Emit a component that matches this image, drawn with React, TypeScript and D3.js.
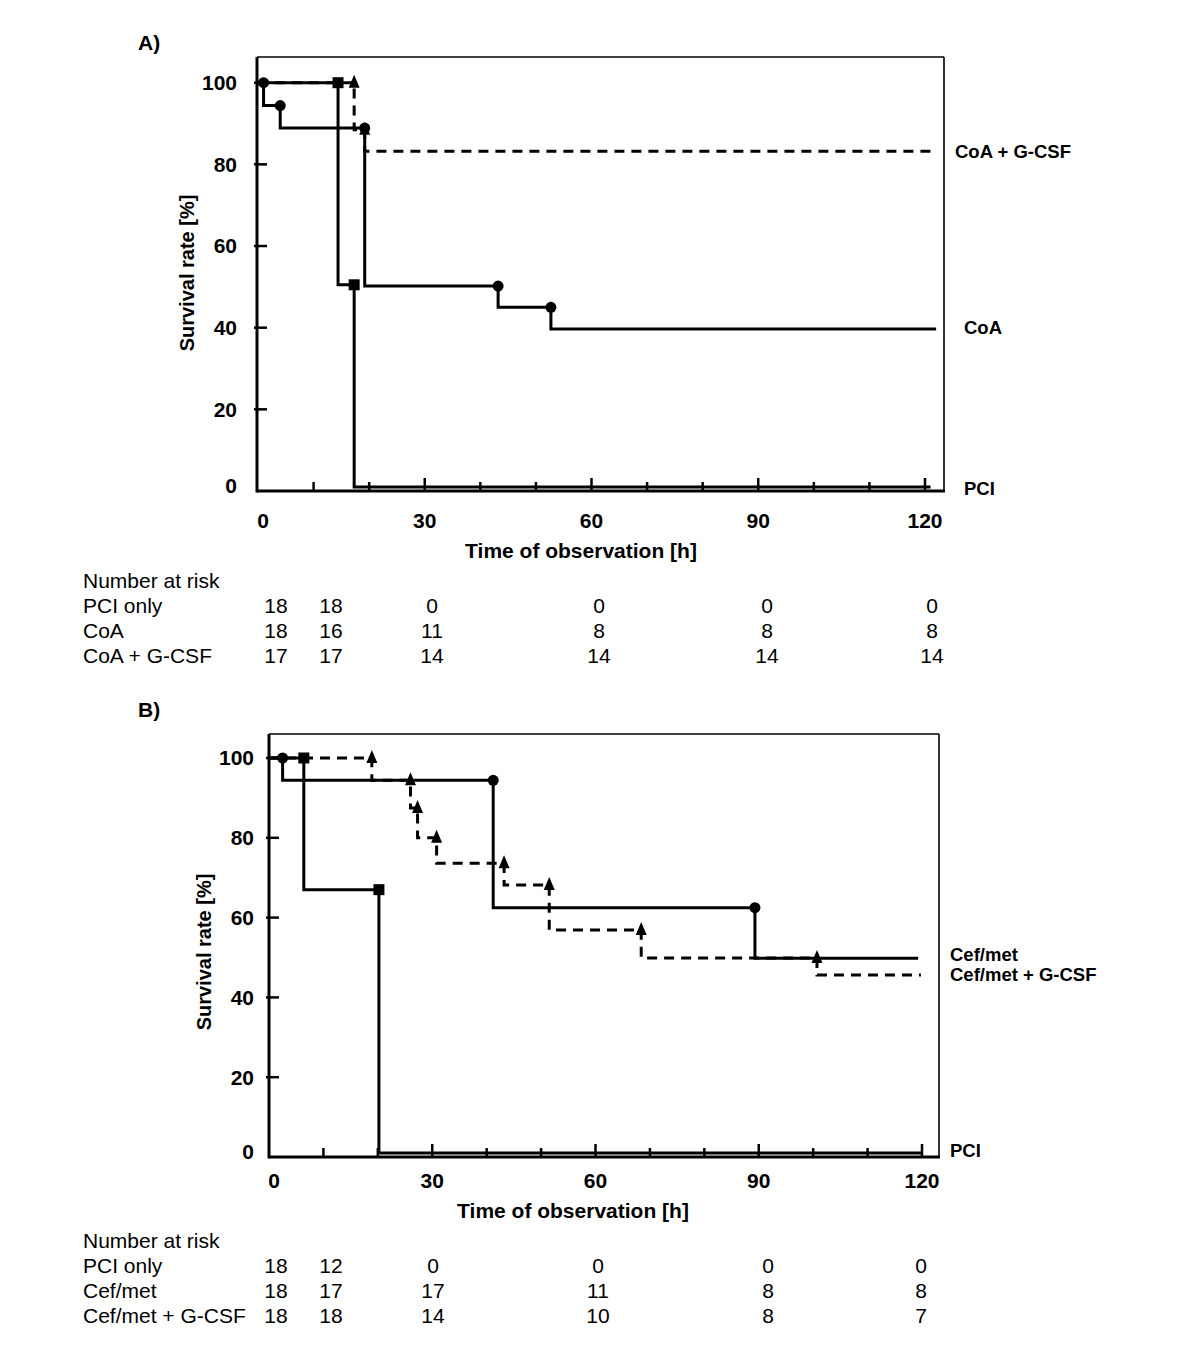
import React from 'react';
import * as d3 from 'd3';

const FONT = '"Liberation Sans", Arial, Helvetica, sans-serif';

// ---------- Panel A data (time [h], survival [%]) ----------
const A_PCI_t = [0, 14.4, 17.3, 121];
const A_PCI_s = [100, 50.5, 1, 1];
const A_CoA_t = [0, 1, 4, 19.2, 43.2, 52.7, 122];
const A_CoA_s = [100, 94.4, 88.9, 50.2, 45, 39.7, 39.7];
const A_GCSF_t = [0, 17.3, 19.2, 121.5];
const A_GCSF_s = [100, 88.5, 83.2, 83.2];

// ---------- Panel B data ----------
const B_PCI_t = [0, 6.4, 20.2, 120];
const B_PCI_s = [100, 67, 1, 1];
const B_Cef_t = [0, 2.5, 41.2, 89.3, 119.3];
const B_Cef_s = [100, 94.4, 62.5, 49.8, 49.8];
const B_CefG_t = [0, 18.9, 26, 27.3, 30.8, 43.2, 51.5, 68.4, 100.7, 119.8];
const B_CefG_s = [100, 94.4, 87.5, 80, 73.6, 68.2, 56.9, 49.9, 45.6, 45.6];

// ---------- axis ticks ----------
const xTickLabels = [0, 30, 60, 90, 120];
const xMinorTicks = [10, 20, 30, 40, 50, 60, 70, 80, 90, 100, 110, 120];
const yTickLabels = [0, 20, 40, 60, 80, 100];

// ---------- number at risk ----------
const riskHeader = 'Number at risk';
const A_riskNames = ['PCI only', 'CoA', 'CoA + G-CSF'];
const A_riskPCI = ['18', '18', '0', '0', '0', '0'];
const A_riskCoA = ['18', '16', '11', '8', '8', '8'];
const A_riskGCSF = ['17', '17', '14', '14', '14', '14'];
const B_riskNames = ['PCI only', 'Cef/met', 'Cef/met + G-CSF'];
const B_riskPCI = ['18', '12', '0', '0', '0', '0'];
const B_riskCef = ['18', '17', '17', '11', '8', '8'];
const B_riskCefG = ['18', '18', '14', '10', '8', '7'];

type Series = { t: number[]; s: number[]; marker: 'circle' | 'square' | 'triangle'; dashed: boolean };

type PanelCfg = {
  letter: string;
  letterPos: [number, number];
  box: { left: number; right: number; top: number; bottom: number };
  xRange: [number, number];
  yRange: [number, number];
  yLabelX: number;
  xLabelY: number;
  yTitle: [number, number];
  xTitle: [number, number];
  series: Series[];
  rightLabels: { text: string; x: number; y: number }[];
  riskY: number;
  riskCols: number[];
  riskNames: string[];
  riskRows: string[][];
};

const panels: PanelCfg[] = [
  {
    letter: 'A)',
    letterPos: [138, 43],
    box: { left: 257, right: 944, top: 57, bottom: 491 },
    xRange: [258, 925],
    yRange: [491, 82.7],
    yLabelX: 237,
    xLabelY: 521,
    yTitle: [187, 273],
    xTitle: [581, 551],
    series: [
      { t: A_PCI_t, s: A_PCI_s, marker: 'square', dashed: false },
      { t: A_CoA_t, s: A_CoA_s, marker: 'circle', dashed: false },
      { t: A_GCSF_t, s: A_GCSF_s, marker: 'triangle', dashed: true },
    ],
    rightLabels: [
      { text: 'CoA + G-CSF', x: 955, y: 152 },
      { text: 'CoA', x: 964, y: 328 },
      { text: 'PCI', x: 964, y: 489 },
    ],
    riskY: 581,
    riskCols: [276, 331, 432, 599, 767, 932],
    riskNames: A_riskNames,
    riskRows: [A_riskPCI, A_riskCoA, A_riskGCSF],
  },
  {
    letter: 'B)',
    letterPos: [138, 710],
    box: { left: 269, right: 939, top: 734, bottom: 1157 },
    xRange: [269, 922],
    yRange: [1157, 758],
    yLabelX: 254,
    xLabelY: 1181,
    yTitle: [204, 952],
    xTitle: [573, 1211],
    series: [
      { t: B_PCI_t, s: B_PCI_s, marker: 'square', dashed: false },
      { t: B_Cef_t, s: B_Cef_s, marker: 'circle', dashed: false },
      { t: B_CefG_t, s: B_CefG_s, marker: 'triangle', dashed: true },
    ],
    rightLabels: [
      { text: 'Cef/met', x: 950, y: 955 },
      { text: 'Cef/met + G-CSF', x: 950, y: 975 },
      { text: 'PCI', x: 950, y: 1151 },
    ],
    riskY: 1241,
    riskCols: [276, 331, 433, 598, 768, 921],
    riskNames: B_riskNames,
    riskRows: [B_riskPCI, B_riskCef, B_riskCefG],
  },
];

function markerPath(kind: Series['marker'], x: number, y: number): string {
  if (kind === 'circle') {
    const r = 5.5;
    return `M${x - r},${y}a${r},${r} 0 1,0 ${2 * r},0a${r},${r} 0 1,0 ${-2 * r},0Z`;
  }
  if (kind === 'square') {
    const h = 5.5;
    return `M${x - h},${y - h}h${2 * h}v${2 * h}h${-2 * h}Z`;
  }
  return `M${x},${y - 8}L${x + 5.5},${y + 5}L${x - 5.5},${y + 5}Z`;
}

function Panel({ cfg }: { cfg: PanelCfg }) {
  const x = d3.scaleLinear().domain([0, 120]).range(cfg.xRange);
  const y = d3.scaleLinear().domain([0, 100]).range(cfg.yRange);
  const line = d3
    .line<[number, number]>()
    .x((d) => x(d[0]))
    .y((d) => y(d[1]))
    .curve(d3.curveStepAfter);
  const { box } = cfg;
  const boldTxt = { fontFamily: FONT, fontWeight: 700 as const };
  return (
    <g>
      <text x={cfg.letterPos[0]} y={cfg.letterPos[1]} dy="0.35em" fontSize={21} {...boldTxt}>
        {cfg.letter}
      </text>
      {/* frame */}
      <line x1={box.left} x2={box.right} y1={box.top} y2={box.top} stroke="#000" strokeWidth={1.6} />
      <line x1={box.right} x2={box.right} y1={box.top} y2={box.bottom} stroke="#000" strokeWidth={1.6} />
      <line x1={box.left} x2={box.left} y1={box.top} y2={box.bottom + 1.5} stroke="#000" strokeWidth={3} />
      <line x1={box.left} x2={box.right + 1} y1={box.bottom} y2={box.bottom} stroke="#000" strokeWidth={3} />
      {/* y ticks */}
      {yTickLabels.map((v) => (
        <g key={'yt' + v}>
          {v > 0 && (
            <line x1={box.left - 3} x2={box.left + 10} y1={y(v)} y2={y(v)} stroke="#000" strokeWidth={2.5} />
          )}
          <text
            x={cfg.yLabelX}
            y={v === 0 ? y(v) - 5 : y(v)}
            dy="0.35em"
            textAnchor="end"
            fontSize={21}
            {...boldTxt}
          >
            {v}
          </text>
        </g>
      ))}
      {/* x ticks */}
      {xMinorTicks.map((v) => (
        <line
          key={'xt' + v}
          x1={x(v)}
          x2={x(v)}
          y1={box.bottom}
          y2={box.bottom - (v % 30 === 0 ? 13 : 9)}
          stroke="#000"
          strokeWidth={2.5}
        />
      ))}
      {xTickLabels.map((v) => (
        <text key={'xl' + v} x={x(v) + (v === 0 ? 5 : 0)} y={cfg.xLabelY} dy="0.35em" textAnchor="middle" fontSize={21} {...boldTxt}>
          {v}
        </text>
      ))}
      {/* titles */}
      <text
        transform={`translate(${cfg.yTitle[0]},${cfg.yTitle[1]}) rotate(-90)`}
        dy="0.35em"
        textAnchor="middle"
        fontSize={20}
        {...boldTxt}
      >
        Survival rate [%]
      </text>
      <text x={cfg.xTitle[0]} y={cfg.xTitle[1]} dy="0.35em" textAnchor="middle" fontSize={21} {...boldTxt}>
        Time of observation [h]
      </text>
      {/* curves */}
      {cfg.series.map((sr, i) => {
        const pts = sr.t.map((t, j) => [t, sr.s[j]] as [number, number]);
        return (
          <path
            key={'c' + i}
            d={line(pts) || ''}
            fill="none"
            stroke="#000"
            strokeWidth={3}
            strokeDasharray={sr.dashed ? '10,7' : undefined}
          />
        );
      })}
      {cfg.series.map((sr, i) =>
        sr.t.slice(1, -1).map((t, j) => (
          <path key={'m' + i + '-' + j} d={markerPath(sr.marker, x(t), y(sr.s[j]))} fill="#000" />
        ))
      )}
      {/* right labels */}
      {cfg.rightLabels.map((l) => (
        <text key={l.text} x={l.x} y={l.y} dy="0.35em" fontSize={18.5} {...boldTxt}>
          {l.text}
        </text>
      ))}
      {/* number at risk */}
      <text x={83} y={cfg.riskY} dy="0.35em" fontSize={21} fontFamily={FONT}>
        {riskHeader}
      </text>
      {cfg.riskNames.map((name, r) => (
        <g key={'r' + r}>
          <text x={83} y={cfg.riskY + 25 * (r + 1)} dy="0.35em" fontSize={21} fontFamily={FONT}>
            {name}
          </text>
          {cfg.riskRows[r].map((v, c) => (
            <text
              key={'rv' + c}
              x={cfg.riskCols[c]}
              y={cfg.riskY + 25 * (r + 1)}
              dy="0.35em"
              textAnchor="middle"
              fontSize={21}
              fontFamily={FONT}
            >
              {v}
            </text>
          ))}
        </g>
      ))}
    </g>
  );
}

export default function App() {
  return (
    <svg
      width={1200}
      height={1361}
      style={{ position: 'absolute', left: 0, top: 0, display: 'block', background: '#fff' }}
    >
      <rect x={0} y={0} width={1200} height={1361} fill="#fff" />
      {panels.map((p) => (
        <Panel key={p.letter} cfg={p} />
      ))}
    </svg>
  );
}
